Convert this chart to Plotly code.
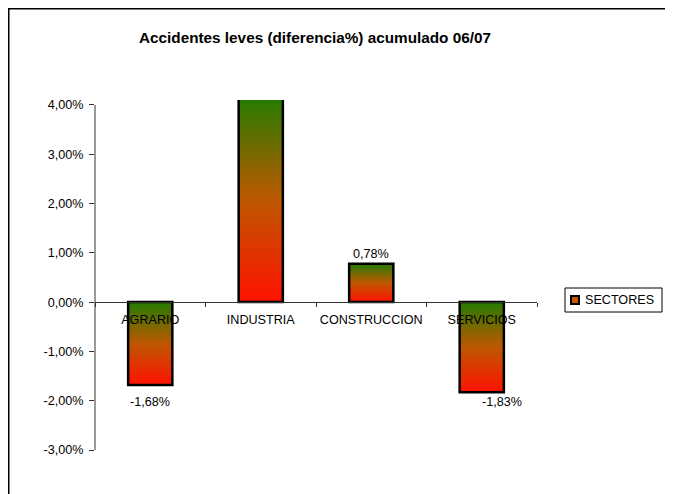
import plotly.graph_objects as go

# ---- data ----
categories = ["AGRARIO", "INDUSTRIA", "CONSTRUCCION", "SERVICIOS"]
values_pct = [-1.68, 4.15, 0.78, -1.83]
label_texts = ["-1,68%", None, "0,78%", "-1,83%"]
y_ticks_pct = [-3, -2, -1, 0, 1, 2, 3, 4]
y_tick_labels = [f"{v:.2f}%".replace(".", ",") for v in y_ticks_pct]
series_name = "SECTORES"
title_text = "<b>Accidentes leves (diferencia%) acumulado 06/07</b>"

values = [v / 100 for v in values_pct]
y_ticks = [v / 100 for v in y_ticks_pct]
ymin, ymax = y_ticks[0], 0.041   # plot area reaches a little above the last tick

# ---- layout geometry ----
# the page body has an 8px margin, so the figure is sized to fill the rest of the
# 673x494 window and all target positions (screen pixels) are shifted by OFF.
OFF = 8
W, H = 673 - OFF, 494 - OFF
PL, PR, PT, PB = 95, 537, 100, 450          # plot area on screen
ML, MR, MT, MB = PL - OFF, W - (PR - OFF), PT - OFF, H - (PB - OFF)
PW, PH = W - ML - MR, H - MT - MB
FONT = "Arial, Liberation Sans, sans-serif"
FS = 12.6
BAR_W = 0.4
AXC = "#333"


def px_x(p):
    return (p - OFF - ML) / PW


def px_y(p):
    return (H - MB - (p - OFF)) / PH


# gradient colour stops: t=0 bottom (red) .. t=1 top (green)
stops = [(0.0, (255, 18, 0)), (0.5, (190, 88, 0)), (1.0, (36, 124, 0))]


def grad(t):
    for (t0, c0), (t1, c1) in zip(stops[:-1], stops[1:]):
        if t0 <= t <= t1:
            f = (t - t0) / (t1 - t0)
            c = [round(a + (b - a) * f) for a, b in zip(c0, c1)]
            return f"rgb({c[0]},{c[1]},{c[2]})"
    return "rgb(%d,%d,%d)" % stops[-1][1]


bottoms = [min(v, 0) for v in values]
spans = [abs(v) for v in values]

fig = go.Figure()

N = 70
for k in range(N):
    frac_top = 1 - k / N
    t = frac_top - 0.5 / N
    fig.add_bar(x=categories, y=[s * frac_top for s in spans], base=bottoms,
                width=BAR_W, marker=dict(color=grad(t), line=dict(width=0)),
                showlegend=False, hoverinfo="skip", name=series_name)

# outline
fig.add_bar(x=categories, y=spans, base=bottoms, width=BAR_W, name=series_name,
            marker=dict(color="rgba(0,0,0,0)", line=dict(color="black", width=2.5)),
            showlegend=False, hoverinfo="skip")

# data labels
label_dx = [0, 0, 0, 20]
label_dy = [-17, 0, 10, -10]
for c, v, txt, dx, dy in zip(categories, values, label_texts, label_dx, label_dy):
    if txt is None:
        continue
    fig.add_annotation(x=c, y=v, text=txt, showarrow=False, xshift=dx, yshift=dy,
                       font=dict(family=FONT, size=FS, color="black"))

# legend text
fig.add_annotation(xref="paper", yref="paper", x=px_x(583), y=px_y(300),
                   xanchor="left", yanchor="middle", text=series_name,
                   showarrow=False, font=dict(family=FONT, size=FS, color="black"))

zero_pos = (0 - ymin) / (ymax - ymin)

shapes = [
    # outer chart border
    dict(type="rect", xref="paper", yref="paper",
         x0=px_x(OFF + 0.75), x1=px_x(670), y0=px_y(520), y1=px_y(OFF + 0.75),
         line=dict(color="black", width=1.5), fillcolor="rgba(0,0,0,0)"),
    # y axis line (from lowest to highest tick)
    dict(type="line", xref="paper", yref="y", x0=0, x1=0,
         y0=y_ticks[0], y1=y_ticks[-1], line=dict(color=AXC, width=1)),
    # legend box
    dict(type="rect", xref="paper", yref="paper",
         x0=px_x(565), x1=px_x(662), y0=px_y(312), y1=px_y(288),
         line=dict(color="black", width=1), fillcolor="white"),
    # legend key
    dict(type="rect", xref="paper", yref="paper",
         x0=px_x(571), x1=px_x(579), y0=px_y(304), y1=px_y(296),
         line=dict(color="black", width=2), fillcolor="rgb(200,85,0)"),
]

fig.update_layout(
    width=W, height=H,
    margin=dict(l=ML, r=MR, t=MT, b=MB, autoexpand=False),
    paper_bgcolor="white", plot_bgcolor="white",
    barmode="overlay",
    showlegend=False,
    font=dict(family=FONT, size=FS, color="black"),
    title=dict(text=title_text, x=(315 - OFF) / W, xref="container", xanchor="center",
               y=1 - (38 - OFF) / H, yref="container", yanchor="middle",
               font=dict(family=FONT, size=15.3, color="black")),
    xaxis=dict(type="category", range=[-0.5, 3.5], anchor="free", position=zero_pos,
               showline=True, linecolor=AXC, linewidth=1, ticks="outside",
               tickson="boundaries", ticklen=4, tickcolor=AXC, showgrid=False,
               tickangle=0, ticklabelstandoff=6,
               tickfont=dict(family=FONT, size=FS, color="black")),
    yaxis=dict(range=[ymin, ymax], tickvals=y_ticks, ticktext=y_tick_labels,
               showline=False, ticks="outside", ticklabelstandoff=3,
               ticklen=5, tickcolor=AXC, showgrid=False, zeroline=False,
               tickfont=dict(family=FONT, size=FS, color="black")),
    shapes=shapes,
)

fig.write_html("out.html")
